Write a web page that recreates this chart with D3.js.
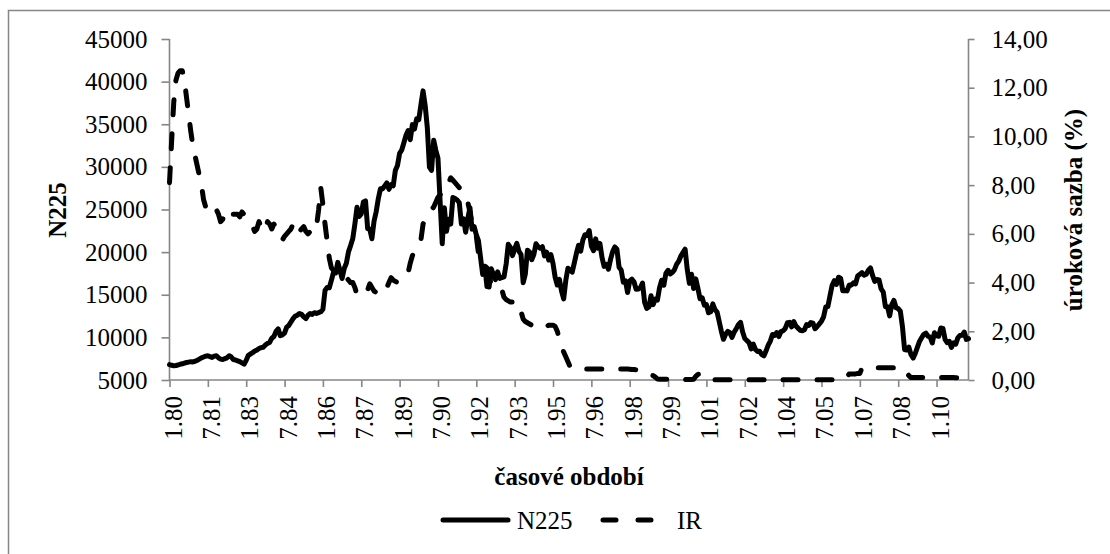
<!DOCTYPE html>
<html>
<head>
<meta charset="utf-8">
<script src="https://cdn.jsdelivr.net/npm/d3@7"></script>
<style>
  body { margin: 0; background: #fff; }
  svg text { font-family: 'Liberation Serif', 'DejaVu Serif', serif; fill: #000; }
</style>
</head>
<body>
<div id="chart"></div>
<script>
// Nikkei 225 (monthly close) and interest rate, 1.1980 - 4.2011
var n225 = [
  6800, 6720, 6680, 6700, 6760, 6850, 6900, 6980, 7050, 7100, 7150, 7120,
  7200, 7300, 7450, 7600, 7700, 7800, 7850, 7750, 7650, 7800, 7850, 7600,
  7450, 7400, 7500, 7600, 7850, 7700, 7400, 7350, 7250, 7150, 7000, 6850,
  7300, 7900, 8050, 8200, 8400, 8500, 8700, 8800, 8850, 9100, 9300, 9400,
  9900, 10100, 10700, 11000, 10200, 10300, 10500, 11200, 11400, 11800, 12200, 12500,
  12600, 12800, 12700, 12400, 12200, 12600, 12800, 12700, 12900, 12800, 12900, 13000,
  13300, 15500, 15860, 15825, 16715, 17654, 17548, 18800, 17852, 16911, 18079, 18701,
  20024, 20766, 21567, 23274, 25260, 24176, 24488, 25889, 26011, 22765, 22687, 21564,
  23622, 24738, 26260, 27434, 27417, 27769, 28118, 27366, 27924, 27781, 29579, 30159,
  31581, 31985, 32839, 33713, 34267, 33183, 34954, 34431, 35637, 35549, 37268, 38916,
  37189, 34591, 29980, 29585, 33131, 31940, 31036, 25978, 20984, 25194, 22454, 23849,
  23293, 26409, 26292, 26111, 25790, 23291, 23900, 22335, 23916, 25222, 22688, 22984,
  22023, 21339, 19346, 17391, 18347, 15952, 15910, 18061, 17399, 16767, 17684, 16925,
  17024, 17098, 18591, 20919, 20552, 19590, 20380, 21028, 20106, 19703, 16408, 17417,
  20229, 19997, 19112, 19725, 20974, 20644, 20448, 20629, 19564, 19990, 19076, 19723,
  18650, 17054, 16140, 16807, 15437, 14517, 16678, 18117, 17913, 17655, 18744, 19868,
  20813, 20125, 21407, 22041, 21956, 22531, 20693, 20167, 21556, 20467, 21020, 19361,
  18330, 18557, 18003, 19151, 20068, 20605, 20331, 18229, 17888, 16459, 16636, 15259,
  16628, 16831, 16527, 15641, 15671, 15830, 16379, 14108, 13406, 13564, 14884, 13842,
  14499, 14368, 15837, 16701, 16112, 17530, 17862, 17437, 17605, 17942, 18558, 18934,
  19540, 19960, 20337, 17974, 16332, 17411, 15727, 16861, 15747, 14539, 14649, 13786,
  13843, 12884, 12999, 13934, 13262, 12969, 11861, 10714, 9775, 10367, 10697, 10543,
  9998, 10588, 11025, 11493, 11764, 10622, 9877, 9619, 9383, 8640, 9216, 8579,
  8340, 8363, 7973, 7831, 8425, 9083, 9563, 10344, 10219, 10560, 10101, 10677,
  10784, 11042, 11715, 11762, 11236, 11859, 11326, 11082, 10824, 10771, 10899, 11489,
  11388, 11741, 11669, 11009, 11277, 11584, 11900, 12414, 13574, 13607, 14872, 16111,
  16650, 16205, 17060, 16906, 15468, 15505, 15457, 16141, 16128, 16399, 16274, 17226,
  17383, 17604, 17288, 17400, 17876, 18138, 17249, 16569, 16786, 16738, 15681, 15308,
  13592, 13603, 12526, 13850, 14339, 13481, 13377, 13073, 11260, 8577, 8512, 8860,
  7994, 7568, 8110, 8828, 9523, 9958, 10357, 10493, 10133, 10035, 9345, 10546,
  10198, 10126, 11090, 11057, 9769, 9383, 9537, 8824, 9369, 9202, 9937, 10229,
  10238, 10624, 9755, 9850
];

var ir = [
  8.1, 9.8, 11.4, 12.3, 12.6, 12.7, 12.7, 12.3, 11.6, 10.9, 10.2, 9.6,
  9.2, 8.8, 8.4, 8.0, 7.4, 7.1, 7.25, 7.3, 7.2, 7.1, 7.0, 6.8,
  6.5, 6.6, 6.9, 7.0, 6.9, 6.8, 6.8, 6.8, 6.8, 6.7, 6.9, 6.8,
  6.7, 6.6, 6.5, 6.3, 6.1, 6.2, 6.5, 6.3, 6.1, 6.2, 6.5, 6.4,
  6.2, 6.4, 6.3, 6.1, 5.9, 5.75, 5.9, 6.0, 6.1, 6.2, 6.4, 6.2,
  6.0, 6.1, 6.2, 6.3, 6.1, 6.0, 6.1, 6.3, 6.4, 6.3, 7.0, 7.9,
  7.2, 6.4, 5.7, 5.0, 4.6, 4.5, 4.5, 4.4, 4.4, 4.3, 4.2, 4.2,
  4.1, 4.0, 4.0, 3.8, 3.5, 3.45, 3.5, 3.6, 3.7, 3.7, 3.95, 3.8,
  3.65, 3.6, 3.55, 3.5, 3.5, 3.65, 3.8, 4.0, 4.2, 4.1, 4.05, 4.0,
  4.1, 4.15, 4.2, 4.3, 4.4, 4.8, 5.1, 5.3, 5.5, 5.6, 5.75, 6.4,
  6.6, 6.8, 6.9, 7.0, 7.1, 7.3, 7.5, 7.6, 7.7, 7.7, 7.9, 8.1,
  8.3, 8.2, 8.1, 8.0, 7.9, 7.8, 7.6, 7.4, 7.3, 6.9, 6.4, 6.3,
  5.9, 5.2, 4.9, 4.7, 4.7, 4.6, 4.3, 3.9, 3.9, 3.8, 3.8, 3.8,
  3.7, 3.4, 3.3, 3.25, 3.2, 3.2, 3.25, 3.2, 3.15, 2.8, 2.5, 2.4,
  2.35, 2.3, 2.25, 2.2, 2.15, 2.1, 2.1, 2.15, 2.2, 2.2, 2.25, 2.25,
  2.25, 2.2, 2.0, 1.7, 1.4, 1.15, 0.95, 0.75, 0.55, 0.47, 0.45, 0.45,
  0.45, 0.45, 0.45, 0.45, 0.45, 0.45, 0.45, 0.45, 0.45, 0.45, 0.45, 0.45,
  0.45, 0.45, 0.45, 0.45, 0.45, 0.45, 0.45, 0.45, 0.45, 0.45, 0.45, 0.45,
  0.44, 0.43, 0.43, 0.42, 0.42, 0.42, 0.41, 0.4, 0.35, 0.25, 0.2, 0.18,
  0.12, 0.04, 0.03, 0.03, 0.03, 0.03, 0.03, 0.03, 0.03, 0.03, 0.03, 0.03,
  0.02, 0.02, 0.02, 0.02, 0.02, 0.02, 0.03, 0.15, 0.23, 0.24, 0.24, 0.25,
  0.24, 0.22, 0.1, 0.02, 0.01, 0.01, 0.01, 0.01, 0.01, 0.01, 0.01, 0.01,
  0.01, 0.01, 0.01, 0.01, 0.01, 0.01, 0.01, 0.01, 0.01, 0.01, 0.01, 0.01,
  0.01, 0.01, 0.01, 0.01, 0.01, 0.01, 0.01, 0.01, 0.01, 0.01, 0.01, 0.01,
  0.01, 0.01, 0.01, 0.01, 0.01, 0.01, 0.01, 0.01, 0.01, 0.01, 0.01, 0.01,
  0.01, 0.01, 0.01, 0.01, 0.01, 0.01, 0.01, 0.01, 0.01, 0.01, 0.01, 0.01,
  0.01, 0.01, 0.01, 0.01, 0.01, 0.02, 0.12, 0.25, 0.25, 0.25, 0.25, 0.27,
  0.27, 0.5, 0.5, 0.5, 0.5, 0.5, 0.5, 0.5, 0.5, 0.5, 0.5, 0.5,
  0.5, 0.5, 0.5, 0.5, 0.5, 0.5, 0.5, 0.5, 0.5, 0.45, 0.3, 0.18,
  0.1, 0.1, 0.1, 0.1, 0.1, 0.1, 0.1, 0.1, 0.1, 0.1, 0.1, 0.1,
  0.1, 0.1, 0.1, 0.1, 0.1, 0.1, 0.1, 0.1, 0.1, 0.09, 0.09, 0.08,
  0.08, 0.07, 0.06, 0.05
];

var xTickLabels = ["1.80", "7.81", "1.83", "7.84", "1.86", "7.87", "1.89", "7.90", "1.92", "7.93",
  "1.95", "7.96", "1.98", "7.99", "1.01", "7.02", "1.04", "7.05", "1.07", "7.08", "1.10"];
var leftTicks = [5000, 10000, 15000, 20000, 25000, 30000, 35000, 40000, 45000];
var rightTicks = [0, 2, 4, 6, 8, 10, 12, 14];

// month categories "M.YY"
var months = [];
for (var k = 0; k < n225.length; k++) {
    var mm = (k % 12) + 1;
    var yy = (1980 + Math.floor(k / 12)) % 100;
    months.push(mm + "." + String(yy).padStart(2, "0"));
}

var width = 1110, height = 554;
var plot = { left: 169.5, right: 968.5, top: 39, bottom: 380 };
var axisColor = "#868686";
var fontFamily = "'Liberation Serif', 'DejaVu Serif', serif";
var fontSize = 25;

var svg = d3.select("#chart").append("svg")
    .attr("width", width)
    .attr("height", height)
    .attr("font-family", fontFamily);

// outer frame (only left and top edges fall inside the picture)
svg.append("rect")
    .attr("x", 8.5).attr("y", 10.5)
    .attr("width", 1200).attr("height", 700)
    .attr("fill", "none")
    .attr("stroke", axisColor)
    .attr("stroke-width", 1.5);

var xScale = d3.scalePoint()
    .domain(months)
    .range([plot.left, plot.right]);

var yLeft = d3.scaleLinear().domain([5000, 45000]).range([plot.bottom, plot.top]);
var yRight = d3.scaleLinear().domain([0, 14]).range([plot.bottom, plot.top]);

// left axis
var leftAxis = svg.append("g")
    .attr("transform", `translate(${plot.left},0)`)
    .call(d3.axisLeft(yLeft).tickValues(leftTicks).tickSize(8).tickPadding(14).tickFormat(d3.format("d")));

// right axis
var rightAxis = svg.append("g")
    .attr("transform", `translate(${plot.right},0)`)
    .call(d3.axisRight(yRight).tickValues(rightTicks).tickSize(6).tickPadding(17)
        .tickFormat(d => d.toFixed(2).replace(".", ",")));

// bottom axis
var labelMonths = months.filter((d, i) => i % 18 === 0);
var bottomAxis = svg.append("g")
    .attr("transform", `translate(0,${plot.bottom})`)
    .call(d3.axisBottom(xScale).tickValues(labelMonths).tickSize(7).tickFormat((d, i) => xTickLabels[i]));

bottomAxis.selectAll(".tick text")
    .attr("transform", "rotate(-90)")
    .attr("text-anchor", "end")
    .attr("x", -16)
    .attr("y", 0)
    .attr("dy", "0.46em");

[leftAxis, rightAxis, bottomAxis].forEach(function (ax) {
    ax.attr("font-family", fontFamily).attr("font-size", fontSize);
    ax.select(".domain").attr("stroke", axisColor).attr("stroke-width", 1.6);
    ax.selectAll(".tick line").attr("stroke", axisColor).attr("stroke-width", 1.6);
    ax.selectAll(".tick text").attr("fill", "#000");
});
// no outer ticks on the axis lines
leftAxis.select(".domain").attr("d", `M0,${plot.bottom}V${plot.top}`);
rightAxis.select(".domain").attr("d", `M0,${plot.bottom}V${plot.top}`);
bottomAxis.select(".domain").attr("d", `M${plot.left},0H${plot.right}`);

// series
var n225Line = d3.line()
    .x((d, i) => xScale(months[i]))
    .y(d => yLeft(d));

var irLine = d3.line()
    .x((d, i) => xScale(months[i]))
    .y(d => yRight(d));

svg.append("path")
    .datum(ir)
    .attr("d", irLine)
    .attr("fill", "none")
    .attr("stroke", "#000")
    .attr("stroke-width", 5)
    .attr("stroke-linecap", "round")
    .attr("stroke-linejoin", "round")
    .attr("stroke-dasharray", "15,19");

svg.append("path")
    .datum(n225)
    .attr("d", n225Line)
    .attr("fill", "none")
    .attr("stroke", "#000")
    .attr("stroke-width", 5)
    .attr("stroke-linecap", "round")
    .attr("stroke-linejoin", "round");

// axis titles
svg.append("text")
    .attr("transform", "translate(57,210) rotate(-90)")
    .attr("text-anchor", "middle")
    .attr("dy", "0.35em")
    .attr("font-size", fontSize)
    .attr("font-weight", "bold")
    .text("N225");

svg.append("text")
    .attr("transform", "translate(1073,210) rotate(-90)")
    .attr("text-anchor", "middle")
    .attr("dy", "0.35em")
    .attr("font-size", fontSize)
    .attr("font-weight", "bold")
    .text("úroková sazba (%)");

svg.append("text")
    .attr("x", (plot.left + plot.right) / 2)
    .attr("y", 485)
    .attr("text-anchor", "middle")
    .attr("font-size", fontSize)
    .attr("font-weight", "bold")
    .text("časové období");

// legend
var legend = svg.append("g").attr("font-size", fontSize);
legend.append("line")
    .attr("x1", 443).attr("x2", 508).attr("y1", 520).attr("y2", 520)
    .attr("stroke", "#000").attr("stroke-width", 5).attr("stroke-linecap", "round");
legend.append("text")
    .attr("x", 517).attr("y", 528.5)
    .text("N225");
legend.append("line")
    .attr("x1", 603).attr("x2", 652).attr("y1", 520).attr("y2", 520)
    .attr("stroke", "#000").attr("stroke-width", 5).attr("stroke-linecap", "round")
    .attr("stroke-dasharray", "13,22");
legend.append("text")
    .attr("x", 677).attr("y", 528.5)
    .text("IR");
</script>
</body>
</html>
